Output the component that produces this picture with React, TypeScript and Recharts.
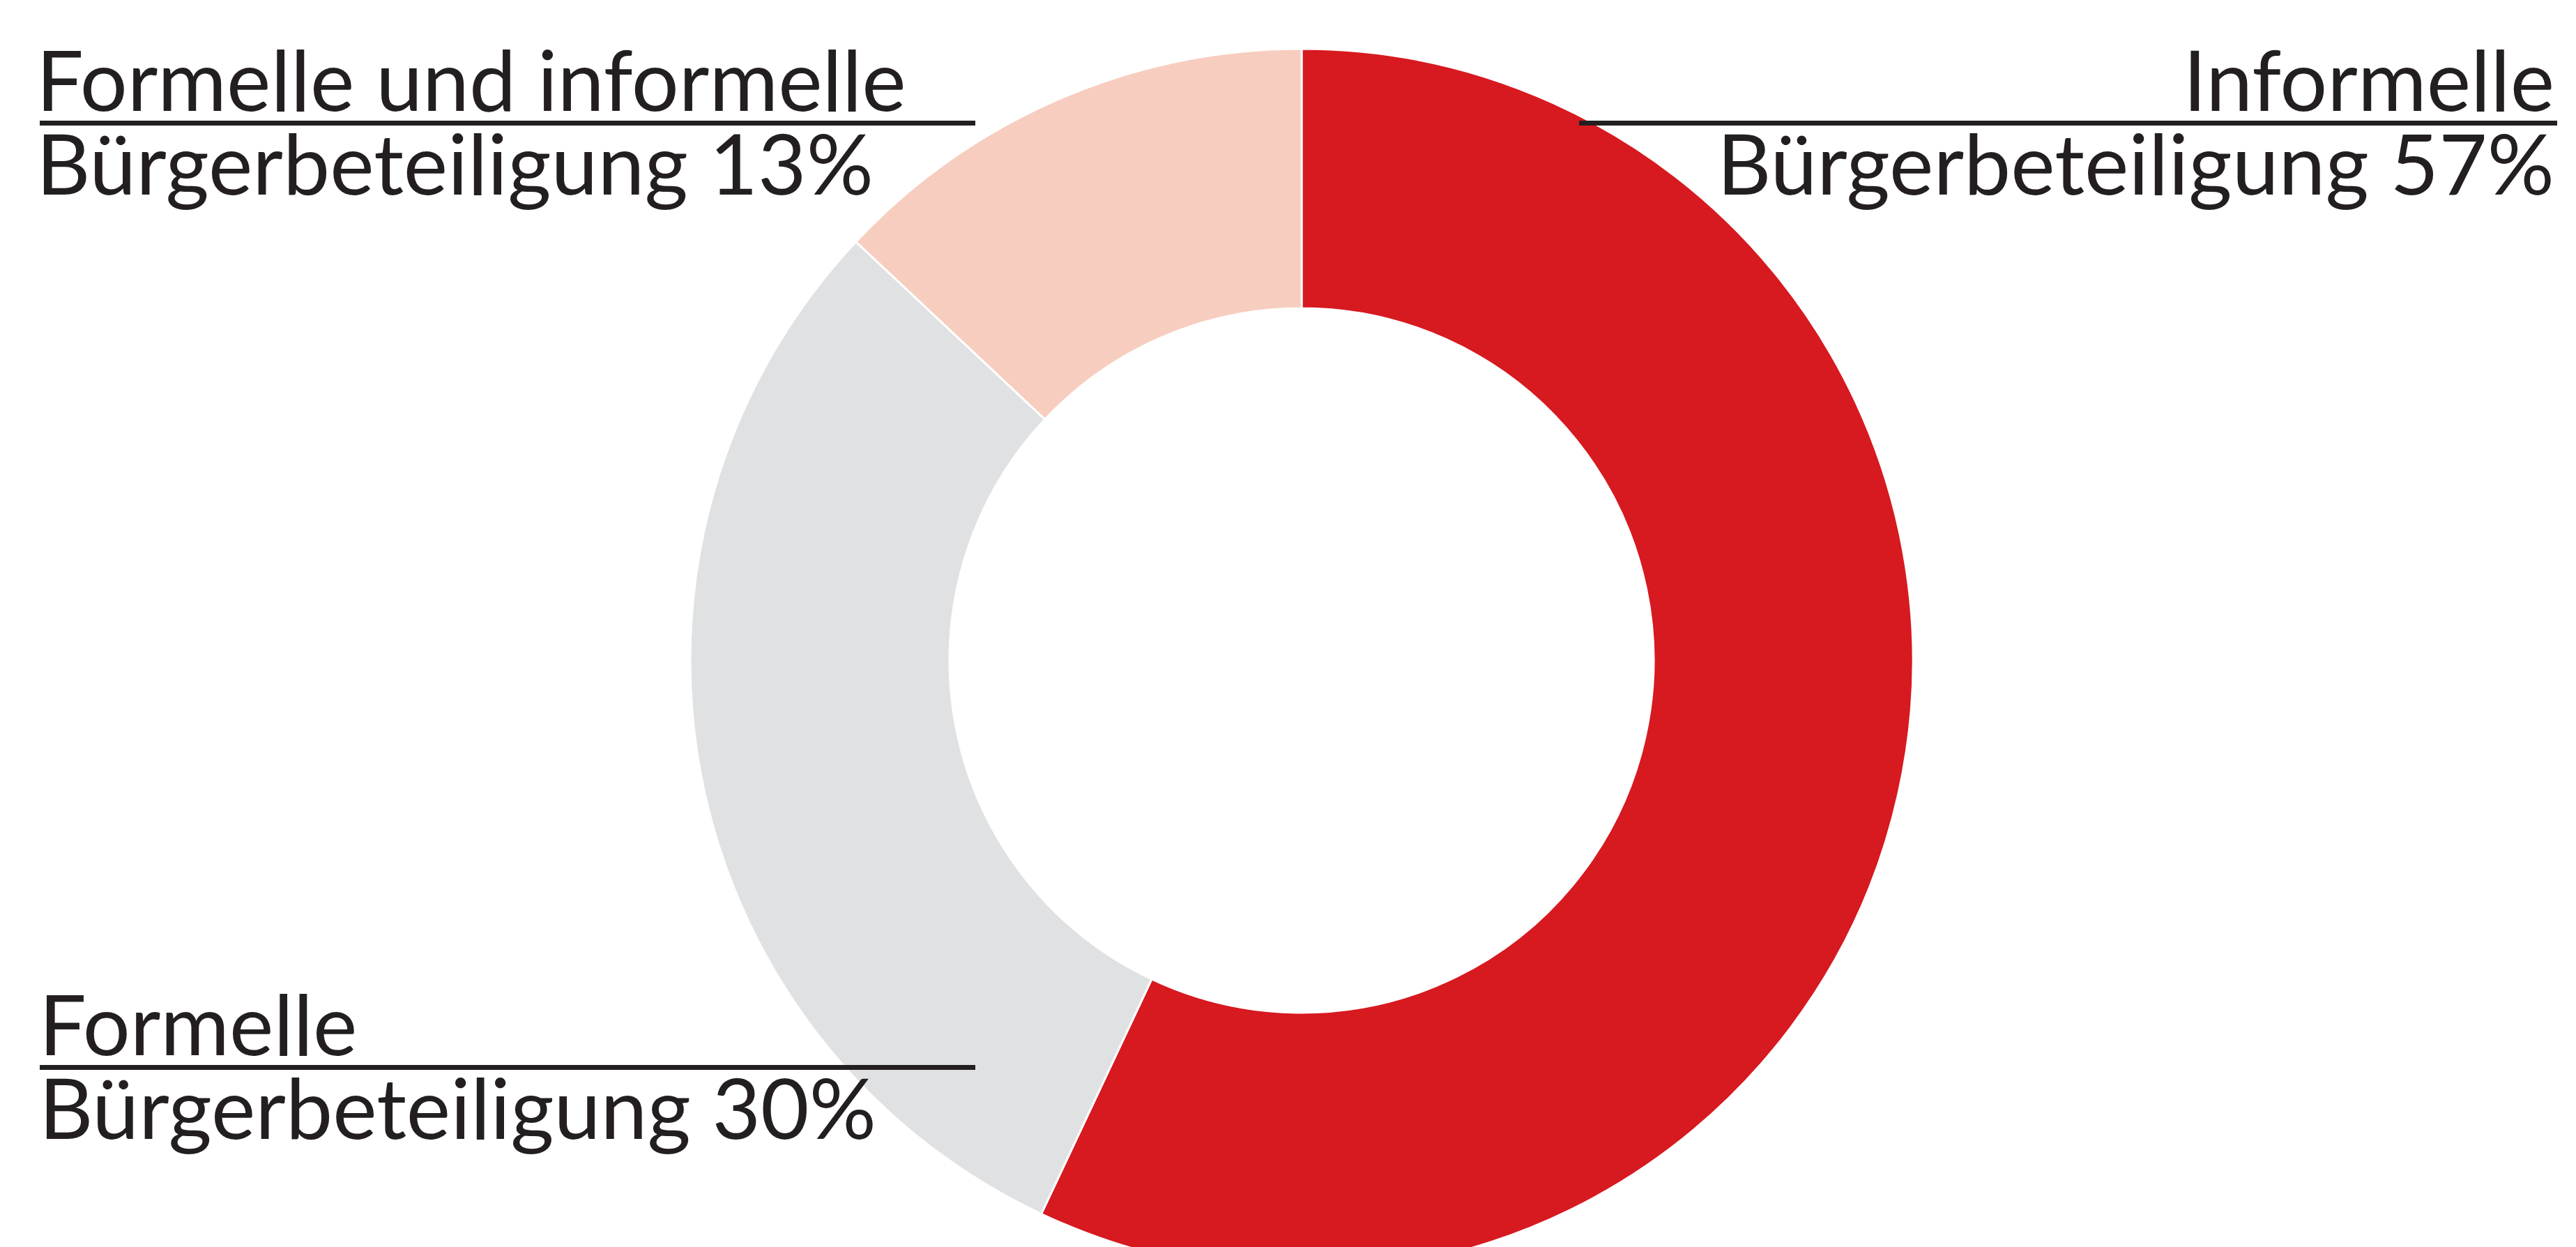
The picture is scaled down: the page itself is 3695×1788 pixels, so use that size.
import { PieChart, Pie, Cell } from "recharts";

const CATEGORIES = ["Informelle", "Formelle", "Formelle und informelle"];
const SHARES = [57, 30, 13];
const COLORS = ["#d71920", "#e0e1e3", "#f7cdbf"];

const data = CATEGORIES.map((name, i) => ({ name, value: SHARES[i] }));

// where each label block sits (corner placement like the print original)
const LABEL_LAYOUT = [
  { x: 3664, anchor: "end", y: 159, lineFrom: 2265, lineTo: 3668 },
  { x: 56, anchor: "start", y: 1513, lineFrom: 57, lineTo: 1399 },
  { x: 52, anchor: "start", y: 159, lineFrom: 57, lineTo: 1399 },
];

const FONT = "Lato, 'Open Sans', sans-serif";
const INK = "#231f20";

function renderLabel(props: any) {
  const { index, name, value } = props;
  const l = LABEL_LAYOUT[index];
  return (
    <g key={`lbl-${index}`}>
      <rect
        x={l.lineFrom}
        y={l.y + 14}
        width={l.lineTo - l.lineFrom}
        height={7}
        fill={INK}
      />
      <text
        x={l.x}
        y={l.y}
        textAnchor={l.anchor}
        fontFamily={FONT}
        fontSize={120}
        fill={INK}
      >
        <tspan x={l.x}>{name}</tspan>
        <tspan x={l.x} dy={120}>{`Bürgerbeteiligung ${value}%`}</tspan>
      </text>
    </g>
  );
}

export default function App() {
  return (
    <div style={{ position: "absolute", left: 0, top: 0, background: "#fff" }}>
      <PieChart width={3695} height={1788}>
        <Pie
          data={data}
          dataKey="value"
          nameKey="name"
          cx={1862}
          cy={942}
          innerRadius={505}
          outerRadius={877}
          startAngle={90}
          endAngle={-270}
          stroke="#ffffff"
          strokeWidth={3}
          label={renderLabel}
          labelLine={false}
          isAnimationActive={false}
        >
          {data.map((entry, index) => (
            <Cell key={entry.name} fill={COLORS[index]} />
          ))}
        </Pie>
      </PieChart>
    </div>
  );
}
